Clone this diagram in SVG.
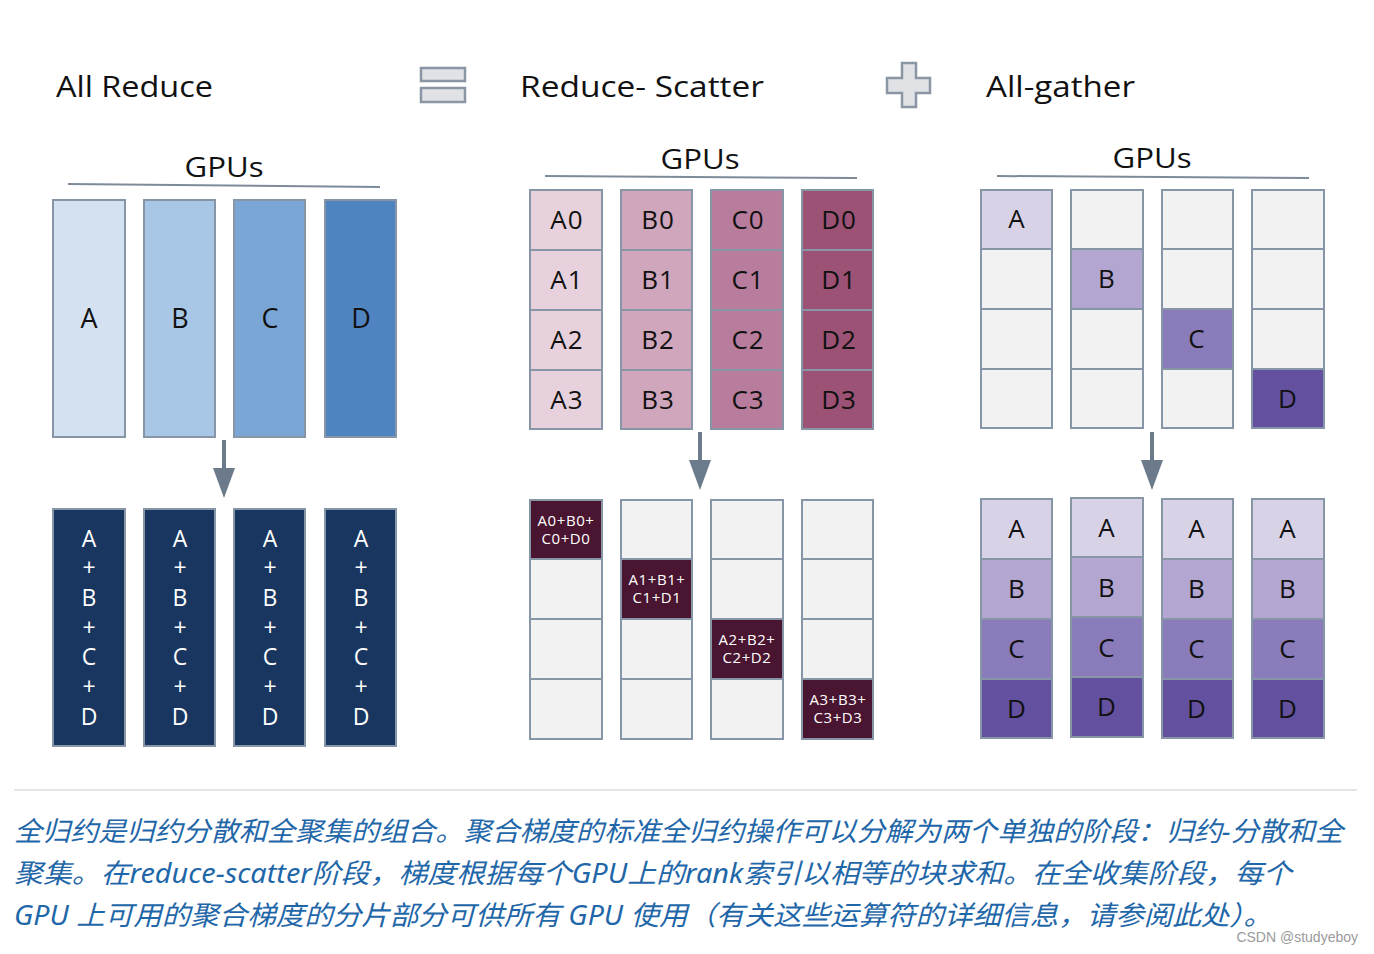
<svg xmlns="http://www.w3.org/2000/svg" width="1374" height="954" viewBox="0 0 1374 954">
<style>
text{font-family:"Open Sans","Liberation Sans",sans-serif;}
.title{font-size:29px;fill:#111;}
.gpus{font-size:27px;fill:#111;text-anchor:middle;}
.gl{stroke:#7d8b99;stroke-width:2;fill:none;}
.cell{stroke:#8796a6;stroke-width:2;}
.lbl{font-size:26px;fill:#111;text-anchor:middle;letter-spacing:1px;}
.big{font-size:27px;fill:#111;text-anchor:middle;}
.wl{font-size:23px;fill:#fff;text-anchor:middle;}
.sm{font-size:15px;fill:#fff;text-anchor:middle;letter-spacing:0.6px;}
.e{fill:#f2f2f2;}
.icon{fill:#e0e2e6;stroke:#8a96a3;stroke-width:2.5;}
.arrow{stroke:#6b7b8c;stroke-width:4;fill:none;}
.cap{font-family:"Noto Sans","Noto Sans CJK SC",sans-serif;font-size:27px;font-style:italic;fill:#1f67a8;}
</style>
<defs>
<marker id="ah" markerWidth="8" markerHeight="6" refX="0" refY="2.75" orient="auto" markerUnits="strokeWidth">
<path d="M0,0 L7.5,2.75 L0,5.5 Z" fill="#6b7b8c"/>
</marker>
</defs>
<rect width="1374" height="954" fill="#fff"/>

<g id="titles">
<text class="title" x="56" y="97" textLength="157" lengthAdjust="spacingAndGlyphs">All Reduce</text>
<text class="title" x="520" y="97" textLength="244" lengthAdjust="spacingAndGlyphs">Reduce- Scatter</text>
<text class="title" x="986" y="97" textLength="149" lengthAdjust="spacingAndGlyphs">All-gather</text>
</g>
<g id="equals-icon">
<rect class="icon" x="421" y="68" width="44" height="13"/>
<rect class="icon" x="421" y="88" width="44" height="14"/>
</g>
<g id="plus-icon">
<path class="icon" d="M902,63 H916 V78 H930 V93 H916 V107 H902 V93 H887 V78 H902 Z"/>
</g>

<g id="allreduce-header">
<text class="gpus" x="224" y="177" textLength="79" lengthAdjust="spacingAndGlyphs">GPUs</text>
<line class="gl" x1="68" y1="184" x2="380" y2="187"/>
</g>
<g id="allreduce-before">
<rect class="cell" x="53" y="200" width="72" height="237" fill="#d4e1f1"/>
<rect class="cell" x="144" y="200" width="71" height="237" fill="#a8c6e5"/>
<rect class="cell" x="234" y="200" width="71" height="237" fill="#7aa6d6"/>
<rect class="cell" x="325" y="200" width="71" height="237" fill="#4f84c0"/>
<text class="big" x="89" y="328">A</text>
<text class="big" x="180" y="328">B</text>
<text class="big" x="270" y="328">C</text>
<text class="big" x="361" y="328">D</text>
</g>
<g id="allreduce-after">
<rect class="cell" x="53" y="509" width="72" height="237" fill="#18365f"/>
<rect class="cell" x="144" y="509" width="71" height="237" fill="#18365f"/>
<rect class="cell" x="234" y="509" width="71" height="237" fill="#18365f"/>
<rect class="cell" x="325" y="509" width="71" height="237" fill="#18365f"/>
<text class="wl" x="89" y="547">A</text><text class="wl" x="89" y="576">+</text><text class="wl" x="89" y="606">B</text><text class="wl" x="89" y="636">+</text><text class="wl" x="89" y="665">C</text><text class="wl" x="89" y="695">+</text><text class="wl" x="89" y="725">D</text>
<text class="wl" x="180" y="547">A</text><text class="wl" x="180" y="576">+</text><text class="wl" x="180" y="606">B</text><text class="wl" x="180" y="636">+</text><text class="wl" x="180" y="665">C</text><text class="wl" x="180" y="695">+</text><text class="wl" x="180" y="725">D</text>
<text class="wl" x="270" y="547">A</text><text class="wl" x="270" y="576">+</text><text class="wl" x="270" y="606">B</text><text class="wl" x="270" y="636">+</text><text class="wl" x="270" y="665">C</text><text class="wl" x="270" y="695">+</text><text class="wl" x="270" y="725">D</text>
<text class="wl" x="361" y="547">A</text><text class="wl" x="361" y="576">+</text><text class="wl" x="361" y="606">B</text><text class="wl" x="361" y="636">+</text><text class="wl" x="361" y="665">C</text><text class="wl" x="361" y="695">+</text><text class="wl" x="361" y="725">D</text>
</g>

<g id="reducescatter-header">
<text class="gpus" x="700" y="169" textLength="79" lengthAdjust="spacingAndGlyphs">GPUs</text>
<line class="gl" x1="545" y1="176" x2="857" y2="178"/>
</g>
<g id="reducescatter-before">
<rect class="cell" x="530" y="190" width="72" height="60" fill="#e6d1dc"/>
<rect class="cell" x="530" y="250" width="72" height="60" fill="#e6d1dc"/>
<rect class="cell" x="530" y="310" width="72" height="60" fill="#e6d1dc"/>
<rect class="cell" x="530" y="370" width="72" height="59" fill="#e6d1dc"/>
<rect class="cell" x="621" y="190" width="71" height="60" fill="#cfa6bb"/>
<rect class="cell" x="621" y="250" width="71" height="60" fill="#cfa6bb"/>
<rect class="cell" x="621" y="310" width="71" height="60" fill="#cfa6bb"/>
<rect class="cell" x="621" y="370" width="71" height="59" fill="#cfa6bb"/>
<rect class="cell" x="711" y="190" width="72" height="60" fill="#b87d9d"/>
<rect class="cell" x="711" y="250" width="72" height="60" fill="#b87d9d"/>
<rect class="cell" x="711" y="310" width="72" height="60" fill="#b87d9d"/>
<rect class="cell" x="711" y="370" width="72" height="59" fill="#b87d9d"/>
<rect class="cell" x="802" y="190" width="71" height="60" fill="#9b5274"/>
<rect class="cell" x="802" y="250" width="71" height="60" fill="#9b5274"/>
<rect class="cell" x="802" y="310" width="71" height="60" fill="#9b5274"/>
<rect class="cell" x="802" y="370" width="71" height="59" fill="#9b5274"/>
<text class="lbl" x="567" y="229">A0</text><text class="lbl" x="567" y="289">A1</text><text class="lbl" x="567" y="349">A2</text><text class="lbl" x="567" y="409">A3</text>
<text class="lbl" x="658" y="229">B0</text><text class="lbl" x="658" y="289">B1</text><text class="lbl" x="658" y="349">B2</text><text class="lbl" x="658" y="409">B3</text>
<text class="lbl" x="748" y="229">C0</text><text class="lbl" x="748" y="289">C1</text><text class="lbl" x="748" y="349">C2</text><text class="lbl" x="748" y="409">C3</text>
<text class="lbl" x="839" y="229">D0</text><text class="lbl" x="839" y="289">D1</text><text class="lbl" x="839" y="349">D2</text><text class="lbl" x="839" y="409">D3</text>
</g>
<g id="reducescatter-after">
<rect class="cell" x="530" y="500" width="72" height="59" fill="#4a1530"/>
<rect class="cell e" x="530" y="559" width="72" height="60"/>
<rect class="cell e" x="530" y="619" width="72" height="60"/>
<rect class="cell e" x="530" y="679" width="72" height="60"/>
<rect class="cell e" x="621" y="500" width="71" height="59"/>
<rect class="cell" x="621" y="559" width="71" height="60" fill="#4a1530"/>
<rect class="cell e" x="621" y="619" width="71" height="60"/>
<rect class="cell e" x="621" y="679" width="71" height="60"/>
<rect class="cell e" x="711" y="500" width="72" height="59"/>
<rect class="cell e" x="711" y="559" width="72" height="60"/>
<rect class="cell" x="711" y="619" width="72" height="60" fill="#4a1530"/>
<rect class="cell e" x="711" y="679" width="72" height="60"/>
<rect class="cell e" x="802" y="500" width="71" height="59"/>
<rect class="cell e" x="802" y="559" width="71" height="60"/>
<rect class="cell e" x="802" y="619" width="71" height="60"/>
<rect class="cell" x="802" y="679" width="71" height="60" fill="#4a1530"/>
<text class="sm" x="566" y="526">A0+B0+</text><text class="sm" x="566" y="544">C0+D0</text>
<text class="sm" x="657" y="585">A1+B1+</text><text class="sm" x="657" y="603">C1+D1</text>
<text class="sm" x="747" y="645">A2+B2+</text><text class="sm" x="747" y="663">C2+D2</text>
<text class="sm" x="838" y="705">A3+B3+</text><text class="sm" x="838" y="723">C3+D3</text>
</g>

<g id="allgather-header">
<text class="gpus" x="1152" y="168" textLength="79" lengthAdjust="spacingAndGlyphs">GPUs</text>
<line class="gl" x1="997" y1="176" x2="1309" y2="178"/>
</g>
<g id="allgather-before">
<rect class="cell" x="981" y="190" width="71" height="59" fill="#d8d2e7"/>
<rect class="cell e" x="981" y="249" width="71" height="60"/>
<rect class="cell e" x="981" y="309" width="71" height="60"/>
<rect class="cell e" x="981" y="369" width="71" height="59"/>
<rect class="cell e" x="1071" y="190" width="72" height="59"/>
<rect class="cell" x="1071" y="249" width="72" height="60" fill="#b3a6d0"/>
<rect class="cell e" x="1071" y="309" width="72" height="60"/>
<rect class="cell e" x="1071" y="369" width="72" height="59"/>
<rect class="cell e" x="1162" y="190" width="71" height="59"/>
<rect class="cell e" x="1162" y="249" width="71" height="60"/>
<rect class="cell" x="1162" y="309" width="71" height="60" fill="#8a7cba"/>
<rect class="cell e" x="1162" y="369" width="71" height="59"/>
<rect class="cell e" x="1252" y="190" width="72" height="59"/>
<rect class="cell e" x="1252" y="249" width="72" height="60"/>
<rect class="cell e" x="1252" y="309" width="72" height="60"/>
<rect class="cell" x="1252" y="369" width="72" height="59" fill="#6351a0"/>
<text class="lbl" x="1017" y="228">A</text>
<text class="lbl" x="1107" y="288">B</text>
<text class="lbl" x="1197" y="348">C</text>
<text class="lbl" x="1288" y="408">D</text>
</g>
<g id="allgather-after">
<rect class="cell" x="981" y="499" width="71" height="60" fill="#d8d2e7"/>
<rect class="cell" x="981" y="559" width="71" height="60" fill="#b3a6d0"/>
<rect class="cell" x="981" y="619" width="71" height="60" fill="#8a7cba"/>
<rect class="cell" x="981" y="679" width="71" height="59" fill="#6351a0"/>
<rect class="cell" x="1071" y="498" width="72" height="59" fill="#d8d2e7"/>
<rect class="cell" x="1071" y="557" width="72" height="60" fill="#b3a6d0"/>
<rect class="cell" x="1071" y="617" width="72" height="60" fill="#8a7cba"/>
<rect class="cell" x="1071" y="677" width="72" height="60" fill="#6351a0"/>
<rect class="cell" x="1162" y="499" width="71" height="60" fill="#d8d2e7"/>
<rect class="cell" x="1162" y="559" width="71" height="60" fill="#b3a6d0"/>
<rect class="cell" x="1162" y="619" width="71" height="60" fill="#8a7cba"/>
<rect class="cell" x="1162" y="679" width="71" height="59" fill="#6351a0"/>
<rect class="cell" x="1252" y="499" width="72" height="60" fill="#d8d2e7"/>
<rect class="cell" x="1252" y="559" width="72" height="60" fill="#b3a6d0"/>
<rect class="cell" x="1252" y="619" width="72" height="60" fill="#8a7cba"/>
<rect class="cell" x="1252" y="679" width="72" height="59" fill="#6351a0"/>
<text class="lbl" x="1017" y="538">A</text><text class="lbl" x="1017" y="598">B</text><text class="lbl" x="1017" y="658">C</text><text class="lbl" x="1017" y="718">D</text>
<text class="lbl" x="1107" y="537">A</text><text class="lbl" x="1107" y="597">B</text><text class="lbl" x="1107" y="657">C</text><text class="lbl" x="1107" y="716">D</text>
<text class="lbl" x="1197" y="538">A</text><text class="lbl" x="1197" y="598">B</text><text class="lbl" x="1197" y="658">C</text><text class="lbl" x="1197" y="718">D</text>
<text class="lbl" x="1288" y="538">A</text><text class="lbl" x="1288" y="598">B</text><text class="lbl" x="1288" y="658">C</text><text class="lbl" x="1288" y="718">D</text>
</g>

<g id="connectors">
<line class="arrow" x1="224" y1="440" x2="224" y2="468" marker-end="url(#ah)"/>
<line class="arrow" x1="700" y1="432" x2="700" y2="460" marker-end="url(#ah)"/>
<line class="arrow" x1="1152" y1="432" x2="1152" y2="460" marker-end="url(#ah)"/>
</g>

<g id="caption">
<line x1="14" y1="790" x2="1357" y2="790" stroke="#dcdcdc" stroke-width="1.5"/>
<text class="cap" x="14" y="841" textLength="1329" lengthAdjust="spacingAndGlyphs">全归约是归约分散和全聚集的组合。聚合梯度的标准全归约操作可以分解为两个单独的阶段：归约-分散和全</text>
<text class="cap" x="14" y="883" textLength="1278" lengthAdjust="spacingAndGlyphs">聚集。在reduce-scatter阶段，梯度根据每个GPU上的rank索引以相等的块求和。在全收集阶段，每个</text>
<text class="cap" x="14" y="925" textLength="1258" lengthAdjust="spacingAndGlyphs">GPU 上可用的聚合梯度的分片部分可供所有 GPU 使用（有关这些运算符的详细信息，请参阅此处）。</text>
<text x="1358" y="942" text-anchor="end" style="font-family:'Liberation Sans',sans-serif;font-size:14px;fill:#9a9a9a;">CSDN @studyeboy</text>
</g>
</svg>
